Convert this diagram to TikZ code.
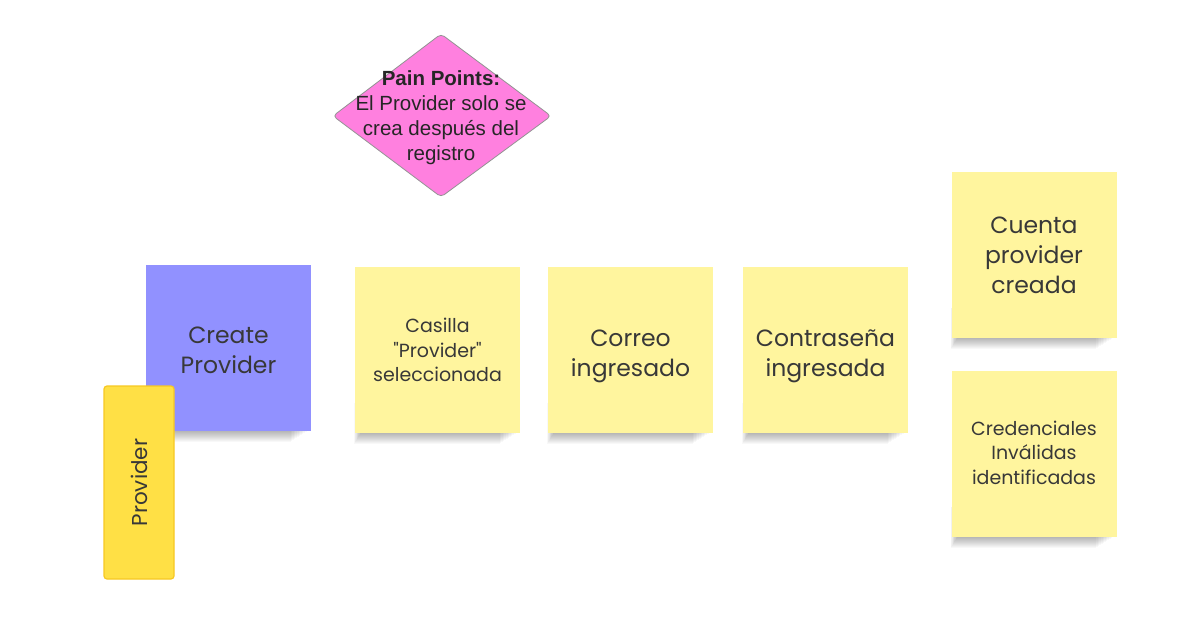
\documentclass[tikz,border=0pt]{standalone}
\usepackage{fontspec}
\setmainfont{Poppins}[Ligatures=TeXOff]
\newfontfamily\diafont{Liberation Sans}
\usetikzlibrary{shapes.geometric,backgrounds}
\pgfdeclarelayer{back0}
\pgfsetlayers{back0,background,main}
\definecolor{sticky}{HTML}{FFF59E}
\definecolor{purp}{HTML}{9191FF}
\definecolor{pink}{HTML}{FF80DF}
\definecolor{ylw}{HTML}{FFE045}
\definecolor{ylwb}{HTML}{F7C823}
\definecolor{txt}{HTML}{383838}
\tikzset{
  note/.style={fill=sticky, draw=none, minimum width=165pt, minimum height=166pt, inner sep=0pt},
  notetext/.style={align=center, text=txt},
  big/.style={font=\fontsize{23.5}{30}\selectfont},
  small/.style={font=\fontsize{19}{24.5}\selectfont},
}
\newcommand\noteshadow[1]{%
  \begin{pgfonlayer}{background}
  \foreach \k in {1,...,11}{%
    \fill[black, opacity=0.026] ([xshift={(6-0.6*\k)*1pt}, yshift=30pt]#1.south west)
      rectangle ([xshift={(-3-1.6*\k)*1pt}, yshift={-\k*1pt}]#1.south east);
  }%
  \end{pgfonlayer}}
\begin{document}
\begin{tikzpicture}[x=1pt,y=-1pt]
\useasboundingbox (0,0) rectangle (1182,628);
\begin{pgfonlayer}{back0}
\fill[white] (0,0) rectangle (1182,628);
\end{pgfonlayer}
% pain point diamond
\coordinate (dt) at (441,34);
\coordinate (dr) at (551,116);
\coordinate (db) at (441,197);
\coordinate (dl) at (333,116);
\draw[fill=pink, draw=gray!85, line width=0.8pt, rounded corners=4pt] (dt) -- (dr) -- (db) -- (dl) -- cycle;
\node[align=center, text=black!85, font=\diafont\fontsize{20.5}{25}\selectfont] (pain) at (441,118)
  {\textbf{Pain Points:}\\El Provider solo se\\crea después del\\registro};
% create provider
\node[note, fill=purp] (create) at (228.5,348) {};
\noteshadow{create}
\node[notetext, big] (createT) at ([yshift=-2pt]create.center) {Create\\Provider};
% provider
\node[fill=ylw, draw=ylwb, line width=1.2pt, rounded corners=3pt, minimum width=70pt, minimum height=193pt] (prov) at (139,482.5) {};
\node[rotate=90, text=txt, font=\fontsize{21.5}{24}\selectfont] (provT) at (prov.center) {Provider};
% stickies
\node[note] (casilla) at (437.5,350) {};
\node[note] (correo) at (630.5,350) {};
\node[note] (contra) at (825.5,350) {};
\node[note] (cuenta) at (1034,255) {};
\node[note] (cred) at (1034,453.5) {};
\foreach \n in {casilla,correo,contra,cuenta,cred} {\noteshadow{\n}}
\node[notetext, small] (casillaT) at ([yshift=0pt]casilla.center) {Casilla\\"Provider"\\seleccionada};
\node[notetext, big] (correoT) at ([yshift=-6pt]correo.center) {Correo\\ingresado};
\node[notetext, big] (contraT) at ([yshift=-6pt]contra.center) {Contraseña\\ingresada};
\node[notetext, big] (cuentaT) at (cuenta.center) {Cuenta\\provider\\creada};
\node[notetext, small] (credT) at ([yshift=1pt]cred.center) {Credenciales\\Inválidas\\identificadas};
\end{tikzpicture}
\end{document}
